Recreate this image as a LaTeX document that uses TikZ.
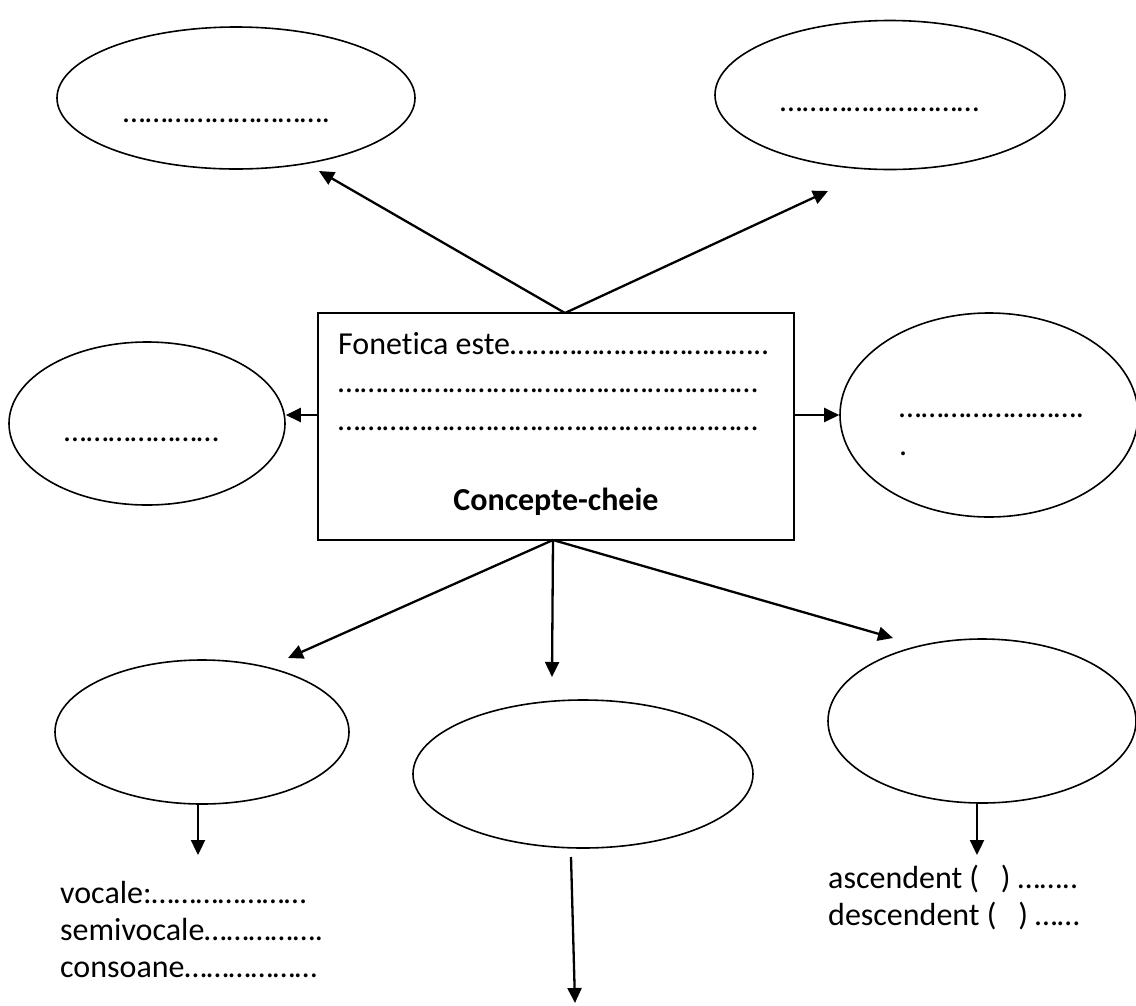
\documentclass[tikz,border=0pt]{standalone}
\usepackage{fontspec}
\setmainfont{Carlito}[Ligatures={NoCommon}]
\usetikzlibrary{shapes.geometric,arrows.meta}
\newcommand\dts[1]{\foreach\k in {1,...,#1}{…}}
\begin{document}
\begin{tikzpicture}[x=1pt,y=-1pt,
  oval/.style={ellipse,draw,line width=1.6pt,inner sep=0pt},
  conn/.style={line width=2.3pt,-{Triangle[length=15pt,width=14pt]}},
  txt/.style={anchor=base west,inner sep=0pt,font=\fontsize{32}{38}\selectfont},
  every node/.append style={font=\fontsize{32}{38}\selectfont}]
\useasboundingbox (0,0) rectangle (1136,1005);
% central box
\node[draw,line width=1.9pt,minimum width=476pt,minimum height=227pt,inner sep=0pt] (box) at (556,426.5) {};
\coordinate (btop) at (565,313);
\coordinate (bbot) at (553,540);
\node[txt] (l1) at (338,354) {Fonetica este\dts{11}..};
\node[txt] (l2) at (338,392) {\dts{19}};
\node[txt] (l3) at (338,430) {\dts{19}};
\node[anchor=base,inner sep=0pt,font=\fontsize{32}{38}\selectfont\bfseries] (cc) at (556,510) {Concepte-cheie};
% ellipses
\node[oval,minimum width=358pt,minimum height=142pt] (tl) at (236,98) {};
\node[oval,minimum width=350pt,minimum height=149pt] (tr) at (890,95) {};
\node[oval,minimum width=276pt,minimum height=163pt] (le) at (147,423.5) {};
\node[oval,minimum width=298pt,minimum height=204pt] (ri) at (989,415) {};
\node[oval,minimum width=294pt,minimum height=144pt] (bl) at (202,732) {};
\node[oval,minimum width=340pt,minimum height=148pt] (bm) at (583,774) {};
\node[oval,minimum width=308pt,minimum height=164pt] (br) at (982,721) {};
% ellipse texts
\node[txt] (tlt) at (123,122) {\dts{9}.};
\node[txt] (trt) at (780,111) {\dts{9}};
\node[txt] (let) at (64,441) {\dts{7}};
\node[txt] (rit) at (899,417) {\dts{8}.};
\node[txt] (rit2) at (899,455) {.};
% connectors
\coordinate (tlend) at (319,171);
\coordinate (trend) at (828,191);
\coordinate (blend) at (288,658);
\coordinate (bmend) at (552,677);
\coordinate (brend) at (893,638);
\draw[conn] (btop) -- (tlend);
\draw[conn] (btop) -- (trend);
\draw[conn] (box.west |- 0,415) -- (le.east |- 0,415);
\draw[conn] (box.east |- 0,415) -- (ri.west |- 0,415);
\draw[conn] (bbot) -- (blend);
\draw[conn] (bbot) -- (bmend);
\draw[conn] (bbot) -- (brend);
% lower arrows
\coordinate (bla) at (198,855);
\coordinate (bra) at (977,855);
\coordinate (bms) at (571,857);
\coordinate (bme) at (575,1003);
\draw[conn] (bl.south -| 198,0) -- (bla);
\draw[conn] (br.south -| 977,0) -- (bra);
\draw[conn] (bms) -- (bme);
% bottom texts
\node[txt] (v1) at (60,903) {vocale:\dts{7}};
\node[txt] (v2) at (60,940) {semivocale\dts{5}.};
\node[txt] (v3) at (60,977) {consoane\dts{6}};
\node[txt] (a1) at (828,888) {ascendent (\ \ \ ) \dts{2}..};
\node[txt] (a2) at (828,925) {descendent (\ \ \ ) \dts{2}};
\end{tikzpicture}
\end{document}
